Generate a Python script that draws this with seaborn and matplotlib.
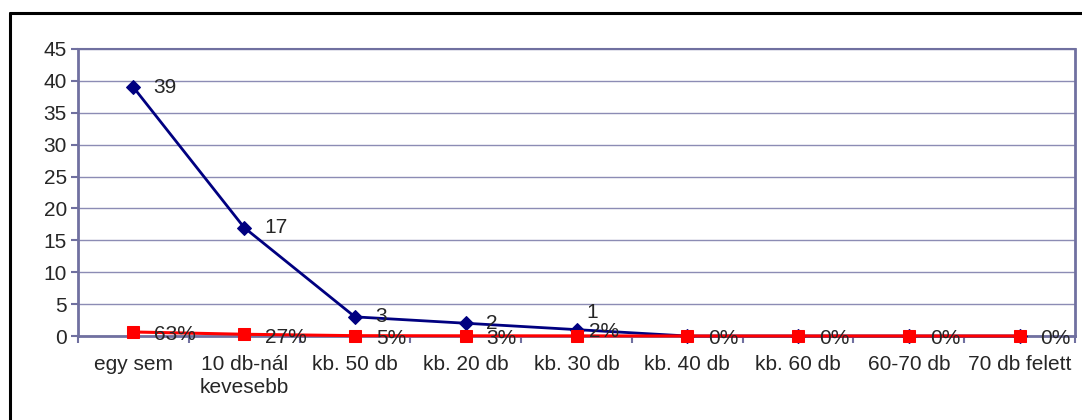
import matplotlib
matplotlib.use("Agg")
import matplotlib.pyplot as plt
import seaborn as sns
import pandas as pd
from matplotlib.lines import Line2D

# Data
categories = ["egy sem", "10 db-nál\nkevesebb", "kb. 50 db", "kb. 20 db", "kb. 30 db",
              "kb. 40 db", "kb. 60 db", "60-70 db", "70 db felett"]
counts = [39, 17, 3, 2, 1, 0, 0, 0, 0]
shares = [0.63, 0.27, 0.05, 0.03, 0.02, 0, 0, 0, 0]
share_labels = ["63%", "27%", "5%", "3%", "2%", "0%", "0%", "0%", "0%"]

sns.set_theme(style="white")
plt.rcParams["font.family"] = ["Liberation Sans", "DejaVu Sans"]

df = pd.DataFrame({"cat": categories, "count": counts, "share": shares})

fig = plt.figure(figsize=(10.82, 4.2), dpi=100)
ax = fig.add_axes([78 / 1082, 84 / 420, 997 / 1082, 287 / 420])

grid_col = "#8c8cb4"
spine_col = "#7070a0"

sns.lineplot(data=df, x="cat", y="count", ax=ax, color="#000080", marker="D",
             markersize=7, markeredgecolor="#000080", linewidth=2, zorder=3,
             sort=False, clip_on=False)
sns.lineplot(data=df, x="cat", y="share", ax=ax, color="#ff0000", marker="s",
             markersize=8.5, markeredgecolor="#ff0000", linewidth=2.2, zorder=4,
             sort=False, clip_on=False)

ax.set_xlim(-0.5, len(categories) - 0.5)
ax.set_ylim(0, 45)
ax.set_yticks(range(0, 46, 5))
ax.set_xticks(range(len(categories)))
ax.set_xticklabels(categories, fontsize=15, linespacing=1.25)
ax.set_xticks([i - 0.5 for i in range(len(categories) + 1)], minor=True)
ax.tick_params(axis="y", labelsize=15, length=5, width=1.5, color=spine_col,
               direction="out", left=True, pad=3)
ax.tick_params(axis="x", which="major", length=0, pad=14)
ax.tick_params(axis="x", which="minor", length=5, width=1.5, color=spine_col,
               direction="out", bottom=True)
ax.set_xlabel("")
ax.set_ylabel("")

ax.yaxis.grid(True, color=grid_col, linewidth=1)
ax.set_axisbelow(True)
for name, sp in ax.spines.items():
    sp.set_visible(True)
    sp.set_color(spine_col)
    sp.set_linewidth(2 if name in ("left", "bottom", "right") else 1.5)
    sp.set_zorder(2)

# value labels (offsets in points)
px = 72 / 100
for i, v in enumerate(counts):
    if v == 0:
        continue
    off = (20 * px, 0)
    if v == 1:
        off = (10 * px, 17 * px)
    ax.annotate(str(v), (i, v), xytext=off, textcoords="offset points",
                ha="left", va="center", fontsize=15, zorder=5)
for i, (v, lab) in enumerate(zip(shares, share_labels)):
    off = (21 * px, -3 * px)
    if lab == "2%":
        off = (12 * px, 4 * px)
    ax.annotate(lab, (i, v), xytext=off, textcoords="offset points",
                ha="left", va="center", fontsize=15, zorder=5,
                annotation_clip=False)

# outer chart frame (cut by the image edge on the right and bottom)
fig.add_artist(Line2D([10 / 1082, 10 / 1082], [0, 1 - 13 / 420], color="black",
                      linewidth=2.2, transform=fig.transFigure))
fig.add_artist(Line2D([10 / 1082, 1], [1 - 13 / 420, 1 - 13 / 420], color="black",
                      linewidth=2.2, transform=fig.transFigure))

fig.savefig("out.png", dpi=100, facecolor="white")
